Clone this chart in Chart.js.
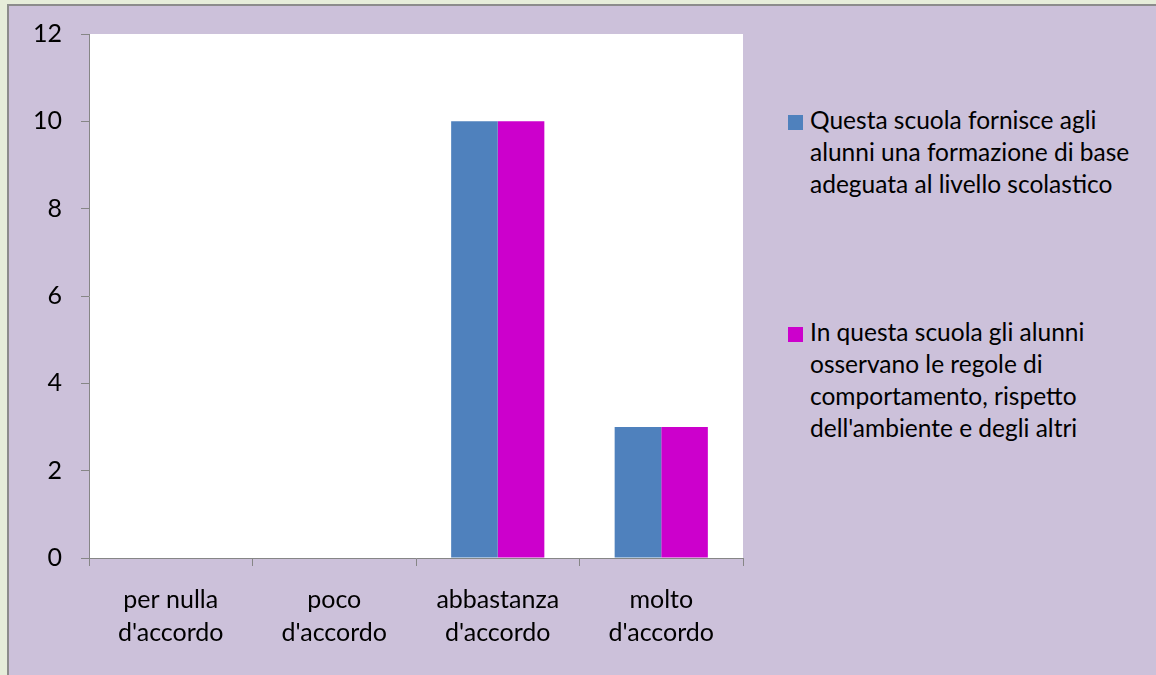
<!DOCTYPE html>
<html>
<head>
<meta charset="utf-8">
<script src="https://cdn.jsdelivr.net/npm/chart.js@4"></script>
<style>
  html, body { margin: 0; padding: 0; overflow: hidden; }
  body { width: 1156px; height: 675px; background: #e6edda; position: relative; font-family: Lato, "Open Sans", sans-serif; }
  #box { position: absolute; left: 7px; top: 4px; width: 1400px; height: 900px; background: #ccc1da; border-left: 2px solid #8c8c8c; border-top: 2px solid #8c8c8c; }
  #wrap { position: absolute; left: 8px; top: 5px; width: 760px; height: 670px; }
  .legend { position: absolute; left: 788px; color: #000; font-size: 24.5px; line-height: 32px; }
  .legend .sw { position: absolute; left: 0; top: 11px; width: 15px; height: 15px; }
  .legend .tx { margin-left: 22px; white-space: nowrap; }
</style>
</head>
<body>
<div id="box"></div>
<div id="wrap"><canvas id="myChart" width="760" height="670"></canvas></div>
<div class="legend" style="top:104px"><div class="sw" style="background:#4f81bd"></div><div class="tx">Questa scuola fornisce agli<br>alunni una formazione di base<br>adeguata al livello scolastico</div></div>
<div class="legend" style="top:316px"><div class="sw" style="background:#cc00cc"></div><div class="tx">In questa scuola gli alunni<br>osservano le regole di<br>comportamento, rispetto<br>dell'ambiente e degli altri</div></div>
<script>
var categories = [['per nulla', "d'accordo"], ['poco', "d'accordo"], ['abbastanza', "d'accordo"], ['molto', "d'accordo"]];
var formazione = [0, 0, 10, 3];
var regole = [0, 0, 10, 3];
var seriesNames = ['Questa scuola fornisce agli alunni una formazione di base adeguata al livello scolastico',
    "In questa scuola gli alunni osservano le regole di comportamento, rispetto dell'ambiente e degli altri"];

var ctx = document.getElementById('myChart').getContext('2d');
var myChart = new Chart(ctx, {
    type: 'bar',
    data: {
        labels: categories,
        datasets: [{
            label: seriesNames[0],
            data: formazione,
            backgroundColor: '#4f81bd',
            borderWidth: 0
        }, {
            label: seriesNames[1],
            data: regole,
            backgroundColor: '#cc00cc',
            borderWidth: 0
        }]
    },
    options: {
        responsive: false,
        animation: false,
        categoryPercentage: 0.57,
        barPercentage: 1,
        layout: {
            padding: { top: 29, right: 25, bottom: 0, left: 0 }
        },
        scales: {
            x: {
                offset: true,
                grid: {
                    offset: true,
                    drawOnChartArea: false,
                    drawTicks: true,
                    tickLength: 8,
                    color: '#868686'
                },
                border: { color: '#868686', width: 1 },
                ticks: {
                    color: '#000',
                    padding: 17,
                    maxRotation: 0,
                    autoSkip: false,
                    font: { family: 'Lato', size: 25, lineHeight: 1.32 }
                },
                afterFit: function(axis) {
                    axis.height = 670 - 553;
                    axis.paddingLeft = 0;
                    axis.paddingRight = 0;
                }
            },
            y: {
                min: 0,
                max: 12,
                ticks: {
                    stepSize: 2,
                    color: '#000',
                    padding: 19,
                    font: { family: 'Lato', size: 25 }
                },
                grid: {
                    drawOnChartArea: false,
                    drawTicks: true,
                    tickLength: 8,
                    color: '#868686'
                },
                border: { color: '#868686', width: 1 },
                afterFit: function(axis) {
                    axis.width = 81;
                    axis.paddingTop = 0;
                    axis.paddingBottom = 0;
                }
            }
        },
        plugins: {
            legend: { display: false },
            tooltip: { enabled: false }
        }
    },
    plugins: [{
        id: 'plotBg',
        beforeDraw: function(chart) {
            var a = chart.chartArea;
            chart.ctx.save();
            chart.ctx.fillStyle = '#ffffff';
            chart.ctx.fillRect(a.left, a.top, a.right - a.left, a.bottom - a.top);
            chart.ctx.restore();
        }
    }]
});
</script>
</body>
</html>
